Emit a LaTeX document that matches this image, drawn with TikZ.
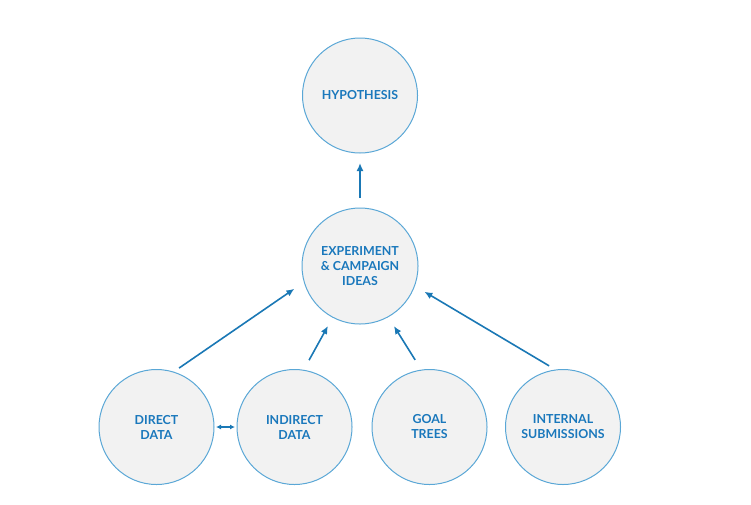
\documentclass[tikz,border=0pt]{standalone}
\usepackage{fontspec}
\setmainfont{Lato}
\usetikzlibrary{arrows.meta}
\definecolor{ringc}{HTML}{5AA7D6}
\definecolor{fillc}{HTML}{F2F2F2}
\definecolor{textc}{HTML}{1A78BC}
\definecolor{arrc}{HTML}{1A78B5}
\tikzset{
  bubble/.style={circle, draw=ringc, fill=fillc, line width=1pt, minimum size=115pt,
    inner sep=0pt, outer sep=0pt, text=textc, align=center,
    font=\fontsize{12.4}{15}\selectfont\bfseries},
  arr/.style={draw=arrc, line width=1.6pt, -{Latex[length=8pt,width=7pt]}},
  darr/.style={draw=arrc, line width=1.6pt, {Latex[length=5pt,width=5pt]}-{Latex[length=5pt,width=5pt]}}
}
\begin{document}
\begin{tikzpicture}[x=1pt,y=-1pt]
\useasboundingbox (0,0) rectangle (751,504);
\node[bubble] (h) at (360,95.5) {HYPOTHESIS};
\node[bubble, minimum size=116pt] (e) at (360,266) {EXPERIMENT\\\& CAMPAIGN\\IDEAS};
\node[bubble] (d) at (156.5,427) {DIRECT\\DATA};
\node[bubble] (i) at (294.5,427) {INDIRECT\\DATA};
\node[bubble] (g) at (429.5,427) {GOAL\\TREES};
\node[bubble] (s) at (563,427) {INTERNAL\\SUBMISSIONS};
\draw[arr, shorten <=10pt, shorten >=10pt] (e.north) -- (h.south);
\draw[arr, shorten <=7pt, shorten >=12pt] (d.73) -- (e.196);
\draw[arr, shorten <=11.5pt, shorten >=10pt] (i.81) -- (e.242);
\draw[arr, shorten <=12pt, shorten >=11pt] (g.98) -- (e.-61);
\draw[arr, shorten <=8pt, shorten >=11.5pt] (s.97) -- (e.-20.5);
\draw[darr, shorten <=2pt, shorten >=2pt] (d.east) -- (i.west);
\end{tikzpicture}
\end{document}
